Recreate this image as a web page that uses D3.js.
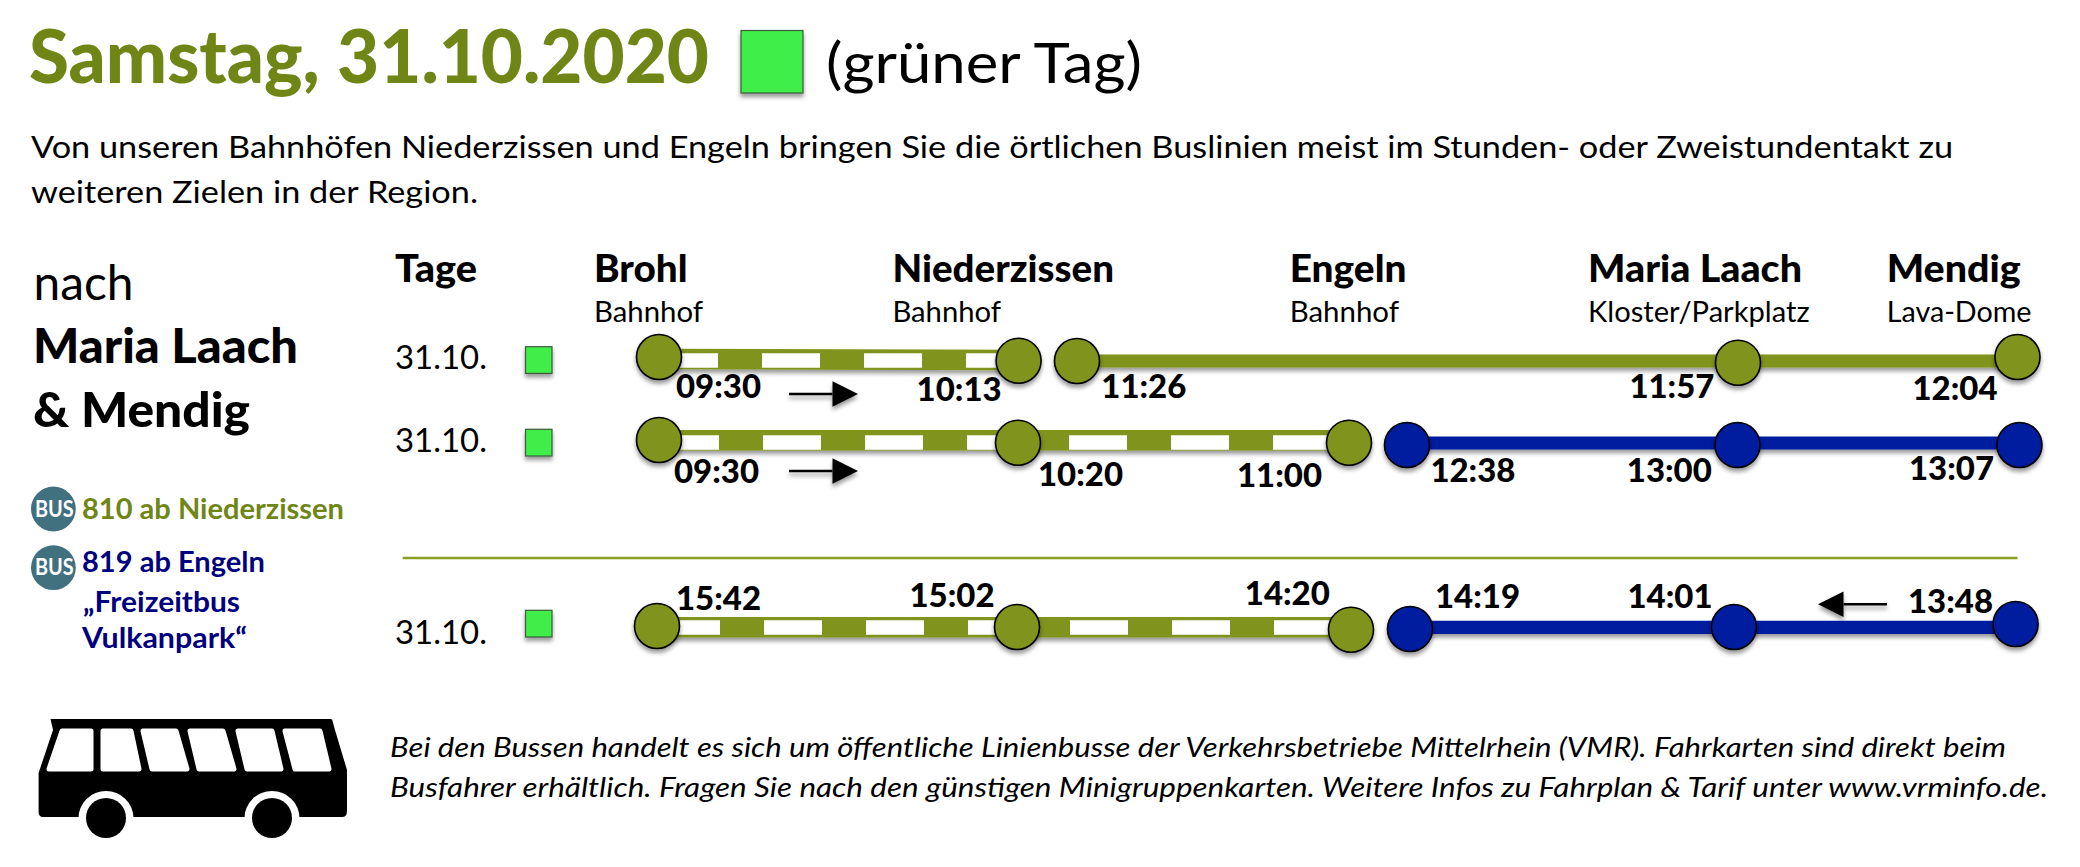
<!DOCTYPE html>
<html>
<head>
<meta charset="utf-8">
<title>Samstag, 31.10.2020</title>
<script src="https://cdn.jsdelivr.net/npm/d3@7"></script>
<style>
    html, body { margin: 0; padding: 0; background: #fff; }
    svg { display: block; }
    text { font-family: Lato, "Open Sans", sans-serif; white-space: pre; }
</style>
</head>
<body>
<div id="chart"></div>
<script>
// DATA -----------------------------------------------------

var titleText = "Samstag, 31.10.2020";
var dayTypeText = "(grüner Tag)";
var introLines = [
    "Von unseren Bahnhöfen Niederzissen und Engeln bringen Sie die örtlichen Buslinien meist im Stunden- oder Zweistundentakt zu",
    "weiteren Zielen in der Region."
];
var footerLines = [
    "Bei den Bussen handelt es sich um öffentliche Linienbusse der Verkehrsbetriebe Mittelrhein (VMR). Fahrkarten sind direkt beim",
    "Busfahrer erhältlich. Fragen Sie nach den günstigen Minigruppenkarten. Weitere Infos zu Fahrplan & Tarif unter www.vrminfo.de."
];
var headingLines = ["nach", "Maria Laach", "& Mendig"];
var busLines = ["810 ab Niederzissen", "819 ab Engeln", "„Freizeitbus", "Vulkanpark“"];

var stationNames = ["Brohl", "Niederzissen", "Engeln", "Maria Laach", "Mendig"];
var stationSubs = ["Bahnhof", "Bahnhof", "Bahnhof", "Kloster/Parkplatz", "Lava-Dome"];

var stops = ["Brohl", "Niederzissen", "Niederzissen ab", "Engeln", "Engeln ab", "Maria Laach", "Mendig"];
var rows = ["hin1", "hin2", "rueck"];
var rowDays = ["31.10.", "31.10.", "31.10."];

var rowStops = [
    ["Brohl", "Niederzissen", "Niederzissen ab", "Maria Laach", "Mendig"],
    ["Brohl", "Niederzissen", "Engeln", "Engeln ab", "Maria Laach", "Mendig"],
    ["Brohl", "Niederzissen", "Engeln", "Engeln ab", "Maria Laach", "Mendig"]
];
var rowTimes = [
    ["09:30", "10:13", "11:26", "11:57", "12:04"],
    ["09:30", "10:20", "11:00", "12:38", "13:00", "13:07"],
    ["15:42", "15:02", "14:20", "14:19", "14:01", "13:48"]
];
// which line serves each stop: train (dashed green), 810 green, 819 blue
var rowLines = [
    ["bahn", "bahn", "810", "810", "810"],
    ["bahn", "bahn", "bahn", "819", "819", "819"],
    ["bahn", "bahn", "bahn", "819", "819", "819"]
];

// LAYOUT ---------------------------------------------------

var width = 2080, height = 867;

var colors = {
    title: "#6f8616", olive: "#80931a", blue: "#001f9f", navy: "#00007f",
    day: "#41ee4a", badge: "#41707f", rule: "#8a9f1f"
};

var stopX = d3.scaleOrdinal().domain(stops).range([659, 1018, 1077, 1349, 1408, 1737, 2018]);
var rowY = d3.scaleOrdinal().domain(rows).range([360, 443, 627]);

// hand placed shapes in the original are slightly off grid
var nodeDx = [[0, 0.6, 0, 1, -0.5], [0, 0, 0, -1, 0.5, 1.5], [-2, -1, 2, 2, -3, -2.4]];
var nodeDy = [[-3, 0.7, 1, 2.7, -3], [-3, -0.3, -0.3, 2, 2, 2], [-1, 0, 2.7, 2, 0, -3]];
var timeDx = [[17, -101.4, 24.3, -107.6, -105.5], [15, 20, -112, 22.4, -110.2, -109], [17, -108.5, -104.2, 27, -109.5, -110]];
var timeDy = [[38.3, 40.7, 38.3, 38.3, 40], [40.3, 43, 43.7, 38.7, 38.7, 37], [-17, -20, -21.7, -18.7, -18.7, -13.7]];
var bandDy = [[-1, 0], [-2.7, -2.7], [0.3, 0.3]];
var dashDy = [0.5, -0.5, 0.5];
var solidDy = [1, 0, 0.3];
var dashStart = [660, 661, 662];

var stationX = [594, 892.4, 1289.7, 1588, 1886.7];
var stationW = [93.5, 221.6, 116.8, 214, 134];
var stationSubW = [109, 108.6, 109.3, 221.6, 144.8];

var svg = d3.select("#chart").append("svg")
    .attr("width", width)
    .attr("height", height);

// flat lines have an empty bounding box, so the filter region must be in user space
var defs = svg.append("defs");
var shadow = defs.append("filter")
    .attr("id", "shadow")
    .attr("filterUnits", "userSpaceOnUse")
    .attr("x", 0).attr("y", 0)
    .attr("width", width).attr("height", height);
shadow.append("feDropShadow")
    .attr("dx", 0).attr("dy", 3.5)
    .attr("stdDeviation", 2.2)
    .attr("flood-color", "#000")
    .attr("flood-opacity", 0.4);

// put text at its left edge and force it to the width seen in the picture
function addText(parent, x, y, str, size, w, opts) {
    opts = opts || {};
    return parent.append("text")
        .attr("x", x)
        .attr("y", y)
        .attr("font-size", size)
        .attr("font-weight", opts.weight || (opts.bold ? 700 : 400))
        .attr("font-style", opts.italic ? "italic" : "normal")
        .attr("fill", opts.fill || "#000")
        .attr("textLength", w)
        .attr("lengthAdjust", "spacingAndGlyphs")
        .text(str);
}

function daySquare(parent, x, y, w, h) {
    parent.append("rect")
        .attr("x", x).attr("y", y)
        .attr("width", w).attr("height", h)
        .attr("fill", colors.day)
        .attr("stroke", "#3c5a3c")
        .attr("stroke-width", 1.2)
        .attr("filter", "url(#shadow)");
}

// HEADER ---------------------------------------------------

addText(svg, 29, 82.7, titleText, 74, 680, { weight: 900, fill: colors.title });
daySquare(svg, 741, 30.5, 62, 62.5);
addText(svg, 826, 82.7, dayTypeText, 57, 316);
addText(svg, 31, 158, introLines[0], 31, 1922);
addText(svg, 31, 203, introLines[1], 31, 447);

// LEFT COLUMN ----------------------------------------------

addText(svg, 33.5, 300, headingLines[0], 48, 100);
addText(svg, 33, 363.3, headingLines[1], 47, 265, { weight: 900 });
addText(svg, 33, 426.7, headingLines[2], 47, 217, { weight: 900 });

var badgeY = [509, 567.7];
var badgeBase = [516.7, 575];
badgeY.forEach(function(y, i) {
    svg.append("circle")
        .attr("cx", 53.4).attr("cy", y).attr("r", 22.4)
        .attr("fill", colors.badge);
    addText(svg, 35, badgeBase[i], "BUS", 22, 38.7, { bold: true, fill: "#fff" });
});

addText(svg, 82, 519.3, busLines[0], 28, 262, { bold: true, fill: colors.title });
addText(svg, 82, 572.3, busLines[1], 28, 183, { bold: true, fill: colors.navy });
addText(svg, 83, 611.7, busLines[2], 28, 157, { bold: true, fill: colors.navy });
addText(svg, 82, 648.3, busLines[3], 28, 165, { bold: true, fill: colors.navy });

// STATION HEADERS ------------------------------------------

addText(svg, 395, 282.3, "Tage", 38, 82, { weight: 900 });

stationNames.forEach(function(name, i) {
    addText(svg, stationX[i], 282.3, name, 38, stationW[i], { weight: 900 });
    addText(svg, stationX[i], 321.7, stationSubs[i], 28, stationSubW[i]);
});

// ROWS -----------------------------------------------------

var bandLine = d3.line();

rows.forEach(function(row, r) {
    var g = svg.append("g").attr("class", "row-" + row);
    var y0 = rowY(row);
    var names = rowStops[r];
    var lines = rowLines[r];

    // day label + square
    var dayBase = [369.3, 451.7, 644][r];
    addText(g, 395, dayBase, rowDays[r], 33, 92);
    daySquare(g, 525.5, [346.7, 429.3, 610.3][r], 26.5, 26.7);

    // dashed stretch (train) runs over all "bahn" stops
    var bahn = names.filter(function(d, i) { return lines[i] === "bahn"; });
    var bandPts = bahn.map(function(d, i) {
        var dy = bandDy[r][Math.min(i, bandDy[r].length - 1)];
        return [stopX(d), y0 + dy];
    });
    var band = g.append("g").attr("filter", "url(#shadow)");
    band.append("path")
        .attr("d", bandLine(bandPts))
        .attr("fill", "none")
        .attr("stroke", colors.olive)
        .attr("stroke-width", 20.5);
    band.append("path")
        .attr("d", bandLine([
            [dashStart[r], y0 + dashDy[r]],
            [stopX(bahn[bahn.length - 1]), y0 + dashDy[r]]
        ]))
        .attr("fill", "none")
        .attr("stroke", "#fff")
        .attr("stroke-width", 14.6)
        .attr("stroke-dasharray", "58 44");

    // solid bus stretch
    var bus = names.filter(function(d, i) { return lines[i] !== "bahn"; });
    var busColor = r === 0 ? colors.olive : colors.blue;
    g.append("path")
        .attr("d", bandLine(bus.map(function(d) { return [stopX(d), y0 + solidDy[r]]; })))
        .attr("fill", "none")
        .attr("stroke", busColor)
        .attr("stroke-width", 13.2)
        .attr("filter", "url(#shadow)");

    // stops
    g.selectAll("circle.stop")
        .data(names)
        .enter().append("circle")
        .attr("class", "stop")
        .attr("cx", function(d, i) { return stopX(d) + nodeDx[r][i]; })
        .attr("cy", function(d, i) { return y0 + nodeDy[r][i]; })
        .attr("r", 22.5)
        .attr("fill", function(d, i) {
            return lines[i] === "819" ? colors.blue : colors.olive;
        })
        .attr("stroke", "#000")
        .attr("stroke-width", 1.6)
        .attr("filter", "url(#shadow)");

    // times
    rowTimes[r].forEach(function(t, i) {
        addText(g, stopX(names[i]) + timeDx[r][i], y0 + timeDy[r][i], t, 33, 85, { weight: 900 });
    });
});

// ARROWS ---------------------------------------------------

function arrow(tailX, tipX, y) {
    var dir = tipX > tailX ? 1 : -1;
    var head = tipX - dir * 25.5;
    var g = svg.append("g").attr("filter", "url(#shadow)");
    g.append("path")
        .attr("d", bandLine([[tailX, y], [head, y]]))
        .attr("stroke", "#000")
        .attr("stroke-width", 2.6)
        .attr("fill", "none");
    g.append("path")
        .attr("d", bandLine([[tipX, y], [head, y - 12.7], [head, y + 12.7]]) + "Z")
        .attr("fill", "#000");
}

arrow(789, 858, 394);
arrow(789, 858, 471);
arrow(1887, 1818, 604.3);

// separator between outward and return rows
svg.append("line")
    .attr("x1", 402.7).attr("x2", 2017.5)
    .attr("y1", 558).attr("y2", 558)
    .attr("stroke", colors.rule)
    .attr("stroke-width", 2.4);

// BUS ICON -------------------------------------------------

var wheels = [106, 272];
var busBody = "M50.5 719 L331 719 Q332.5 719 332.8 722 L335 730 L347 770 L347 811 Q347 817 342 817 L43 817 Q38.6 817 38.6 812 L38.6 773 L53 730 Z";
var busWindows = [
    "M62 731 L91 731 L91 769 L49 769 Z",
    "M103 731 L131 731 L139 769 L103 769 Z",
    "M143 731 L176 731 L187 769 L152 769 Z",
    "M190 731 L223 731 L234 769 L199 769 Z",
    "M238 731 L272 731 L281 769 L247 769 Z",
    "M285 731 L320 731 L329 769 L295 769 Z"
];

var icon = svg.append("g").attr("class", "bus-icon");
icon.append("path").attr("d", busBody).attr("fill", "#000");
icon.selectAll("path.window")
    .data(busWindows)
    .enter().append("path")
    .attr("class", "window")
    .attr("d", function(d) { return d; })
    .attr("fill", "#fff")
    .attr("stroke", "#fff")
    .attr("stroke-width", 5)
    .attr("stroke-linejoin", "round");
icon.selectAll("path.arch")
    .data(wheels)
    .enter().append("path")
    .attr("class", "arch")
    .attr("d", function(d) {
        return "M" + (d - 27.5) + " 818 A27.5 27 0 0 1 " + (d + 27.5) + " 818 Z";
    })
    .attr("fill", "#fff");
icon.selectAll("circle.wheel")
    .data(wheels)
    .enter().append("circle")
    .attr("class", "wheel")
    .attr("cx", function(d) { return d; })
    .attr("cy", 818)
    .attr("r", 20)
    .attr("fill", "#000");

// FOOTER ---------------------------------------------------

addText(svg, 390, 757.3, footerLines[0], 27, 1616, { italic: true });
addText(svg, 390, 796.7, footerLines[1], 27, 1658, { italic: true });
</script>
</body>
</html>
